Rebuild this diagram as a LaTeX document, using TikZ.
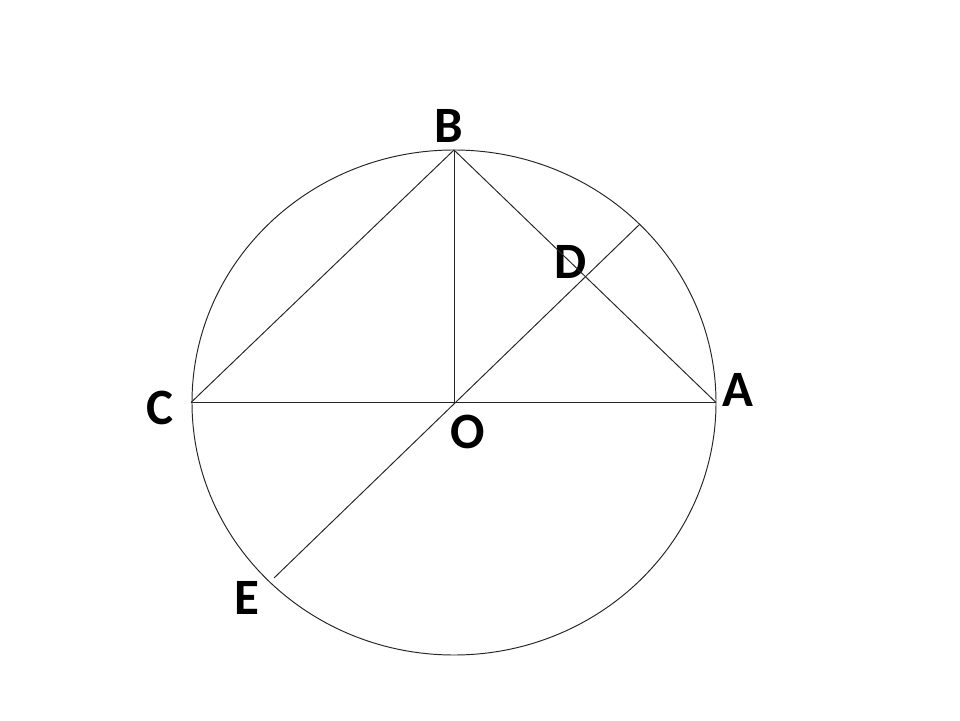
\documentclass[tikz,border=0pt]{standalone}
\usepackage{fontspec}
\setmainfont{Carlito}
\usepackage{tikz}

\tikzset{
  pt/.style={font=\fontsize{29}{32}\selectfont\bfseries, inner sep=0pt},
  thin line/.style={line width=0.55pt, black!85}
}

\begin{document}
\begin{tikzpicture}
\useasboundingbox (0,0) rectangle (19.2,14.4);
\coordinate (O) at (9.08,6.35);
\coordinate (A) at (14.32,6.35);
\coordinate (B) at (9.08,11.40);
\coordinate (C) at (3.82,6.35);
\coordinate (E) at (5.48,2.84);
\coordinate (P) at (12.80,9.92);
\coordinate (D) at (intersection of B--A and E--P);
\node[pt] (lA) at (14.76,6.60) {A};
\node[pt] (lB) at (8.98,11.88) {B};
\node[pt] (lC) at (3.20,6.24) {C};
\node[pt] (lD) at (11.42,9.16) {D};
\node[pt] (lE) at (4.94,2.44) {E};
\node[pt] (lO) at (9.36,5.76) {O};
\draw [thin line] (O) ellipse [x radius=5.24, y radius=5.05];
\draw [thin line] (C) -- (A);
\draw [thin line] (C) -- (B);
\draw [thin line] (B) -- (A);
\draw [thin line] (B) -- (O);
\draw [thin line] (E) -- (P);
\end{tikzpicture}
\end{document}
